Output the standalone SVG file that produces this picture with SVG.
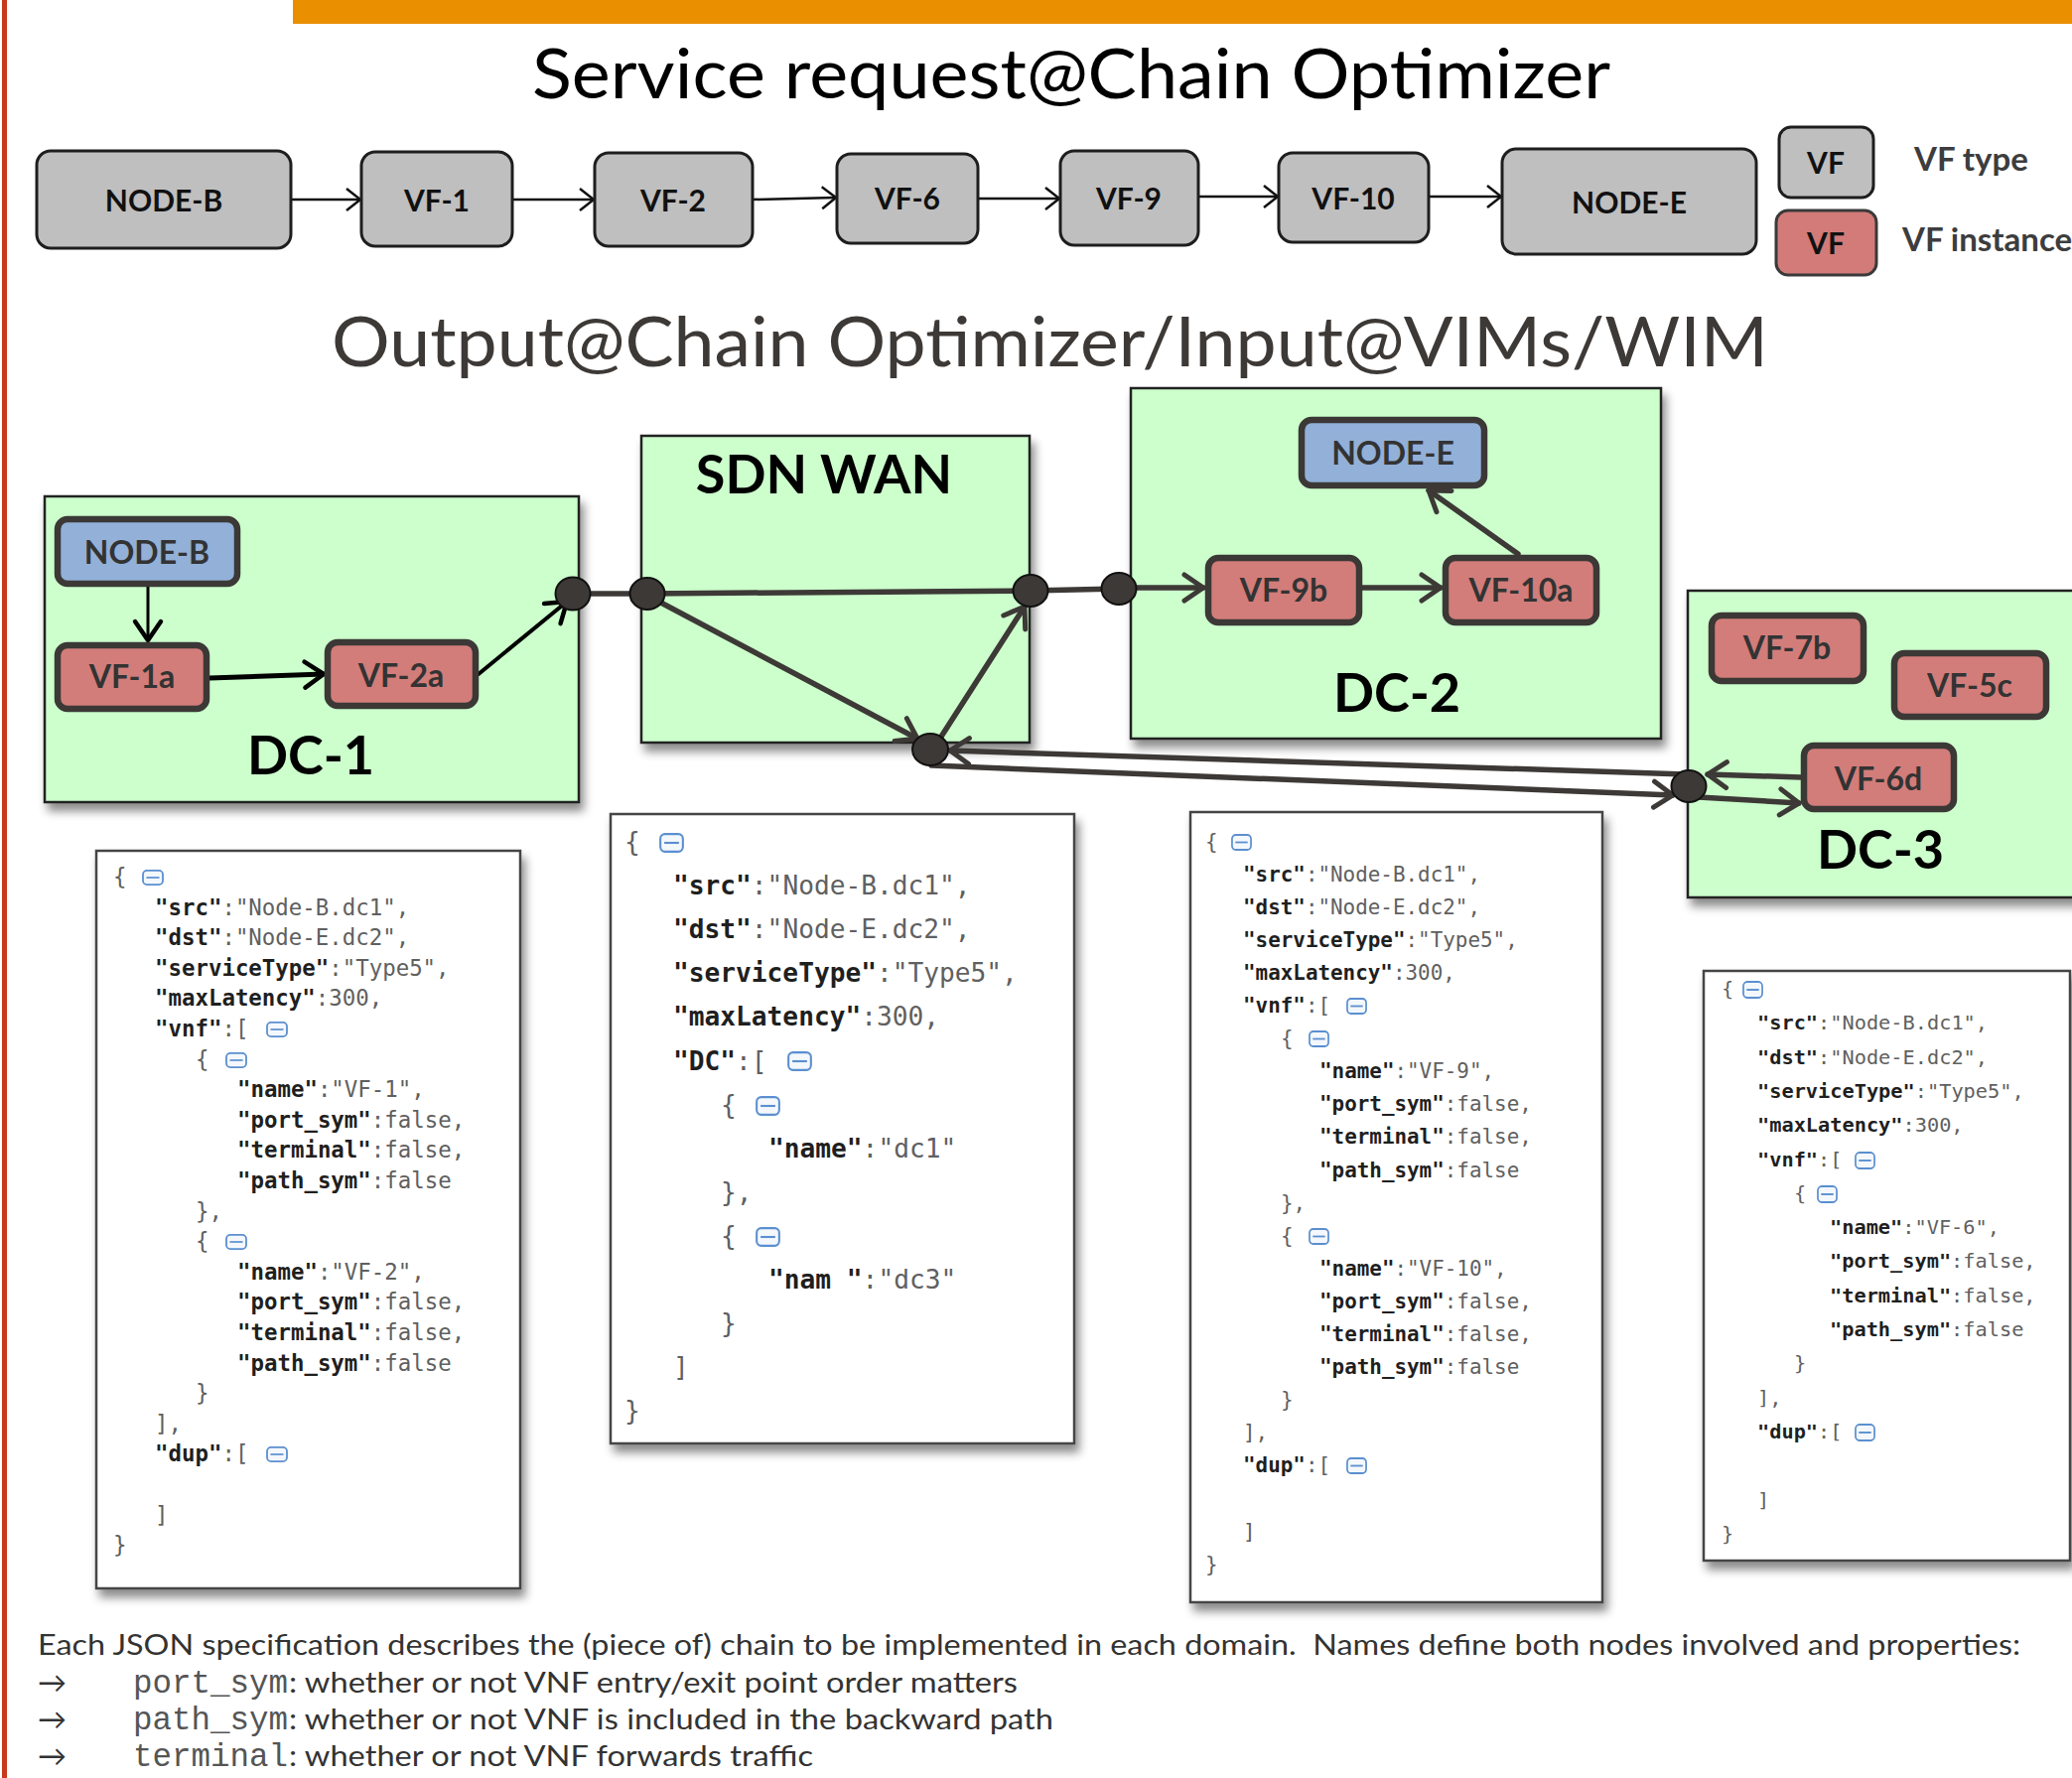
<svg xmlns="http://www.w3.org/2000/svg" xmlns:xlink="http://www.w3.org/1999/xlink" width="2087" height="1791" viewBox="0 0 2087 1791">
  <defs>
    <style>
      .title { font-family: Lato, "Open Sans", sans-serif; font-size: 70px; }
      .top rect { fill: #bfbfbf; stroke: #1e1e1e; stroke-width: 3; }
      .top text, .legend text { font-family: Lato, "Open Sans", sans-serif; font-weight: bold; font-size: 30px; fill: #111; text-anchor: middle; }
      .legend text.lt { text-anchor: start; fill: #3d3d3d; font-size: 33px; }
      .dc { fill: #ccffcc; stroke: #222; stroke-width: 2.5; }
      .dcl { font-family: Lato, "Open Sans", sans-serif; font-weight: bold; font-size: 54px; fill: #000; text-anchor: middle; }
      .blue { fill: #92b0d8; stroke: #3b3836; stroke-width: 6.5; }
      .red { fill: #d27d7a; stroke: #3b3836; stroke-width: 6.5; }
      .nl { font-family: Lato, "Open Sans", sans-serif; font-weight: bold; font-size: 32px; fill: #333; text-anchor: middle; }
      .port { fill: #3d3936; stroke: #111; stroke-width: 2; }
      .c-thin { stroke: #111; stroke-width: 2.5; fill: none; marker-end: url(#ah); }
      .c-blk { stroke: #000; fill: none; stroke-linecap: round; }
      .c-dk { stroke: #3d3936; stroke-width: 5.5; fill: none; stroke-linecap: round; }
      .jbox { fill: #fff; stroke: #444; stroke-width: 2.5; }
      .json { font-family: "DejaVu Sans Mono", "Liberation Mono", monospace; fill: #606060; }
      .json .k { font-weight: bold; fill: #1f1f1f; }
      .foot { font-family: Lato, "DejaVu Sans", sans-serif; font-size: 29px; fill: #333; }
      .mono { font-family: "Liberation Mono", "Courier New", monospace; font-size: 32.5px; fill: #555; }
    </style>
    <filter id="shadow" x="-10%" y="-10%" width="125%" height="125%">
      <feDropShadow dx="4" dy="8" stdDeviation="5" flood-color="#000" flood-opacity="0.45"/>
    </filter>
    <marker id="ah" viewBox="0 0 20 26" refX="17" refY="13" markerWidth="20" markerHeight="26" markerUnits="userSpaceOnUse" orient="auto">
      <path d="M3,2 L17,13 L3,24" fill="none" stroke="#111" stroke-width="2.5"/>
    </marker>
    <marker id="ahb" viewBox="0 0 28 34" refX="24" refY="17" markerWidth="28" markerHeight="34" markerUnits="userSpaceOnUse" orient="auto">
      <path d="M5,4 L24,17 L5,30" fill="none" stroke="#000" stroke-width="4.5" stroke-linecap="round" stroke-linejoin="round"/>
    </marker>
    <marker id="ahd" viewBox="0 0 28 34" refX="24" refY="17" markerWidth="28" markerHeight="34" markerUnits="userSpaceOnUse" orient="auto">
      <path d="M5,4 L24,17 L5,30" fill="none" stroke="#3d3936" stroke-width="5" stroke-linecap="round" stroke-linejoin="round"/>
    </marker>
    <symbol id="fold" viewBox="0 0 22 17" preserveAspectRatio="none">
      <rect x="1" y="1" width="20" height="15" rx="4" fill="#f4f8fc" stroke="#5b8fd0" stroke-width="1.8"/>
      <line x1="4.5" y1="8.5" x2="17.5" y2="8.5" stroke="#5b8fd0" stroke-width="1.8"/>
    </symbol>
  </defs>

  <rect width="2087" height="1791" fill="#fff"/>
  <!-- slide frame: accent bar and left rule -->
  <rect x="295" y="0" width="1792" height="24" fill="#e98f00"/>
  <rect x="2" y="0" width="5" height="1791" fill="#c9381a"/>

  <text class="title" x="536" y="99" fill="#000" textLength="1086" lengthAdjust="spacingAndGlyphs">Service request@Chain Optimizer</text>

  <!-- requested chain -->
  <g id="chain-links">
    <line class="c-thin" x1="293" y1="201" x2="363" y2="201"/>
    <line class="c-thin" x1="516" y1="201" x2="598" y2="201"/>
    <line class="c-thin" x1="758" y1="201" x2="842" y2="199"/>
    <line class="c-thin" x1="985" y1="200" x2="1067" y2="200"/>
    <line class="c-thin" x1="1207" y1="198" x2="1287" y2="198"/>
    <line class="c-thin" x1="1439" y1="198" x2="1512" y2="198"/>
  </g>
  <g id="req-node-b" class="top"><rect x="37" y="152" width="256" height="98" rx="14"/><text x="165" y="213">NODE-B</text></g>
  <g id="req-vf-1" class="top"><rect x="364" y="153" width="152" height="95" rx="14"/><text x="440" y="213">VF-1</text></g>
  <g id="req-vf-2" class="top"><rect x="599" y="154" width="159" height="94" rx="14"/><text x="678" y="213">VF-2</text></g>
  <g id="req-vf-6" class="top"><rect x="843" y="155" width="142" height="90" rx="14"/><text x="914" y="211">VF-6</text></g>
  <g id="req-vf-9" class="top"><rect x="1068" y="152" width="139" height="95" rx="14"/><text x="1137" y="211">VF-9</text></g>
  <g id="req-vf-10" class="top"><rect x="1288" y="154" width="151" height="90" rx="14"/><text x="1363" y="211">VF-10</text></g>
  <g id="req-node-e" class="top"><rect x="1513" y="150" width="256" height="106" rx="14"/><text x="1641" y="215">NODE-E</text></g>

  <!-- legend -->
  <g id="legend" class="legend">
    <rect x="1792" y="128" width="95" height="71" rx="12" fill="#bfbfbf" stroke="#1e1e1e" stroke-width="3"/>
    <text x="1839" y="175">VF</text>
    <rect x="1789" y="212" width="101" height="65" rx="12" fill="#d27b78" stroke="#3a3a3a" stroke-width="3"/>
    <text x="1839" y="256" fill="#333">VF</text>
    <text class="lt" x="1928" y="172">VF type</text>
    <text class="lt" x="1916" y="253">VF instance</text>
  </g>

  <text class="title" x="334" y="369" fill="#3d3936" textLength="1447" lengthAdjust="spacingAndGlyphs">Output@Chain Optimizer/Input@VIMs/WIM</text>

  <!-- domains -->
  <g id="dc-1"><rect class="dc" x="45" y="500" width="538" height="308" filter="url(#shadow)"/><text class="dcl" x="313" y="780">DC-1</text></g>
  <g id="sdn-wan"><rect class="dc" x="646" y="439" width="391" height="309" filter="url(#shadow)"/><text class="dcl" x="830" y="497" fill="#333">SDN WAN</text></g>
  <g id="dc-2"><rect class="dc" x="1139" y="391" width="534" height="353" filter="url(#shadow)"/><text class="dcl" x="1407" y="717">DC-2</text></g>
  <g id="dc-3"><rect class="dc" x="1700" y="595" width="400" height="309" filter="url(#shadow)"/><text class="dcl" x="1894" y="875">DC-3</text></g>

  <!-- deployed chain links -->
  <g id="connectors">
    <line class="c-blk" x1="149" y1="591" x2="149" y2="645" stroke-width="3" marker-end="url(#ahb)"/>
    <line class="c-blk" x1="211" y1="683" x2="326" y2="679" stroke-width="5" marker-end="url(#ahb)"/>
    <line class="c-blk" x1="482" y1="679" x2="571" y2="606" stroke-width="4" marker-end="url(#ahb)"/>
    <line class="c-dk" x1="577" y1="598" x2="651" y2="598"/>
    <line class="c-dk" x1="651" y1="598" x2="1038" y2="595"/>
    <line class="c-dk" x1="660" y1="604" x2="924" y2="744" marker-end="url(#ahd)"/>
    <line class="c-dk" x1="948" y1="742" x2="1032" y2="611" marker-end="url(#ahd)"/>
    <line class="c-dk" x1="1038" y1="595" x2="1127" y2="593" stroke-width="4.5"/>
    <line class="c-dk" x1="1127" y1="592" x2="1212" y2="592" marker-end="url(#ahd)"/>
    <line class="c-dk" x1="1372" y1="592" x2="1451" y2="592" marker-end="url(#ahd)"/>
    <line class="c-dk" x1="1529" y1="558" x2="1439" y2="494" marker-end="url(#ahd)"/>
    <line class="c-dk" x1="1698" y1="780" x2="957" y2="756" marker-end="url(#ahd)"/>
    <line class="c-dk" x1="938" y1="771" x2="1685" y2="801" marker-end="url(#ahd)"/>
    <line class="c-dk" x1="1814" y1="783" x2="1720" y2="780" marker-end="url(#ahd)"/>
    <line class="c-dk" x1="1711" y1="803" x2="1812" y2="809" marker-end="url(#ahd)"/>
  </g>

  <g id="ports">
    <ellipse class="port" cx="577" cy="598" rx="17.5" ry="16.5"/>
    <ellipse class="port" cx="652" cy="598" rx="17.5" ry="16"/>
    <ellipse class="port" cx="1038" cy="595" rx="17.5" ry="16"/>
    <ellipse class="port" cx="1127" cy="593" rx="17.5" ry="16"/>
    <ellipse class="port" cx="937" cy="755" rx="18" ry="16"/>
    <ellipse class="port" cx="1701" cy="792" rx="17.5" ry="16"/>
  </g>

  <g id="node-b"><rect class="blue" x="58" y="523" width="181" height="65" rx="10"/><text class="nl" x="148" y="568">NODE-B</text></g>
  <g id="vf-1a"><rect class="red" x="58" y="650" width="150" height="64" rx="10"/><text class="nl" x="133" y="693">VF-1a</text></g>
  <g id="vf-2a"><rect class="red" x="330" y="647" width="149" height="64" rx="10"/><text class="nl" x="404" y="692">VF-2a</text></g>
  <g id="node-e"><rect class="blue" x="1311" y="423" width="184" height="66" rx="10"/><text class="nl" x="1403" y="468">NODE-E</text></g>
  <g id="vf-9b"><rect class="red" x="1217" y="562" width="152" height="65" rx="10"/><text class="nl" x="1293" y="606">VF-9b</text></g>
  <g id="vf-10a"><rect class="red" x="1456" y="562" width="152" height="65" rx="10"/><text class="nl" x="1532" y="606">VF-10a</text></g>
  <g id="vf-7b"><rect class="red" x="1724" y="620" width="153" height="66" rx="10"/><text class="nl" x="1800" y="664">VF-7b</text></g>
  <g id="vf-5c"><rect class="red" x="1908" y="658" width="153" height="64" rx="10"/><text class="nl" x="1984" y="702">VF-5c</text></g>
  <g id="vf-6d"><rect class="red" x="1817" y="751" width="151" height="64" rx="10"/><text class="nl" x="1892" y="796">VF-6d</text></g>

  <!-- JSON request for DC-1 -->
  <g id="json-dc1">
    <rect class="jbox" x="97" y="857" width="427" height="743" filter="url(#shadow)"/>
    <g class="json" font-size="22.4">
      <text x="114" y="891">{</text>
      <text x="156" y="921.6"><tspan class="k">"src"</tspan>:"Node-B.dc1",</text>
      <text x="156" y="952.2"><tspan class="k">"dst"</tspan>:"Node-E.dc2",</text>
      <text x="156" y="982.8"><tspan class="k">"serviceType"</tspan>:"Type5",</text>
      <text x="156" y="1013.4"><tspan class="k">"maxLatency"</tspan>:300,</text>
      <text x="156" y="1044"><tspan class="k">"vnf"</tspan>:[</text>
      <text x="197" y="1074.6">{</text>
      <text x="239" y="1105.2"><tspan class="k">"name"</tspan>:"VF-1",</text>
      <text x="239" y="1135.8"><tspan class="k">"port_sym"</tspan>:false,</text>
      <text x="239" y="1166.4"><tspan class="k">"terminal"</tspan>:false,</text>
      <text x="239" y="1197"><tspan class="k">"path_sym"</tspan>:false</text>
      <text x="197" y="1227.6">},</text>
      <text x="197" y="1258.2">{</text>
      <text x="239" y="1288.8"><tspan class="k">"name"</tspan>:"VF-2",</text>
      <text x="239" y="1319.4"><tspan class="k">"port_sym"</tspan>:false,</text>
      <text x="239" y="1350"><tspan class="k">"terminal"</tspan>:false,</text>
      <text x="239" y="1380.6"><tspan class="k">"path_sym"</tspan>:false</text>
      <text x="197" y="1411.2">}</text>
      <text x="156" y="1441.8">],</text>
      <text x="156" y="1472.4"><tspan class="k">"dup"</tspan>:[</text>
      <text x="156" y="1533.6">]</text>
      <text x="114" y="1564.2">}</text>
    </g>
    <use href="#fold" x="143" y="876" width="22" height="16"/>
    <use href="#fold" x="268" y="1029" width="22" height="16"/>
    <use href="#fold" x="227" y="1060" width="22" height="16"/>
    <use href="#fold" x="227" y="1243" width="22" height="16"/>
    <use href="#fold" x="268" y="1457" width="22" height="16"/>
  </g>

  <!-- JSON request for the WAN -->
  <g id="json-wan">
    <rect class="jbox" x="615" y="820" width="467" height="634" filter="url(#shadow)"/>
    <g class="json" font-size="26.2">
      <text x="629" y="857">{</text>
      <text x="678" y="901.1"><tspan class="k">"src"</tspan>:"Node-B.dc1",</text>
      <text x="678" y="945.2"><tspan class="k">"dst"</tspan>:"Node-E.dc2",</text>
      <text x="678" y="989.3"><tspan class="k">"serviceType"</tspan>:"Type5",</text>
      <text x="678" y="1033.4"><tspan class="k">"maxLatency"</tspan>:300,</text>
      <text x="678" y="1077.5"><tspan class="k">"DC"</tspan>:[</text>
      <text x="726" y="1121.6">{</text>
      <text x="774" y="1165.7"><tspan class="k">"name"</tspan>:"dc1"</text>
      <text x="726" y="1209.8">},</text>
      <text x="726" y="1253.9">{</text>
      <text x="774" y="1298" xml:space="preserve"><tspan class="k">"nam "</tspan>:"dc3"</text>
      <text x="726" y="1342.1">}</text>
      <text x="678" y="1386.2">]</text>
      <text x="629" y="1430.3">}</text>
    </g>
    <use href="#fold" x="664" y="839" width="25" height="20"/>
    <use href="#fold" x="793" y="1059" width="25" height="20"/>
    <use href="#fold" x="761" y="1104" width="25" height="20"/>
    <use href="#fold" x="761" y="1236" width="25" height="20"/>
  </g>

  <!-- JSON request for DC-2 -->
  <g id="json-dc2">
    <rect class="jbox" x="1199" y="818" width="415" height="796" filter="url(#shadow)"/>
    <g class="json" font-size="20.9">
      <text x="1214" y="854.5">{</text>
      <text x="1252" y="887.6"><tspan class="k">"src"</tspan>:"Node-B.dc1",</text>
      <text x="1252" y="920.7"><tspan class="k">"dst"</tspan>:"Node-E.dc2",</text>
      <text x="1252" y="953.8"><tspan class="k">"serviceType"</tspan>:"Type5",</text>
      <text x="1252" y="986.9"><tspan class="k">"maxLatency"</tspan>:300,</text>
      <text x="1252" y="1020"><tspan class="k">"vnf"</tspan>:[</text>
      <text x="1290" y="1053.1">{</text>
      <text x="1329" y="1086.2"><tspan class="k">"name"</tspan>:"VF-9",</text>
      <text x="1329" y="1119.3"><tspan class="k">"port_sym"</tspan>:false,</text>
      <text x="1329" y="1152.4"><tspan class="k">"terminal"</tspan>:false,</text>
      <text x="1329" y="1185.5"><tspan class="k">"path_sym"</tspan>:false</text>
      <text x="1290" y="1218.6">},</text>
      <text x="1290" y="1251.7">{</text>
      <text x="1329" y="1284.8"><tspan class="k">"name"</tspan>:"VF-10",</text>
      <text x="1329" y="1317.9"><tspan class="k">"port_sym"</tspan>:false,</text>
      <text x="1329" y="1351"><tspan class="k">"terminal"</tspan>:false,</text>
      <text x="1329" y="1384.1"><tspan class="k">"path_sym"</tspan>:false</text>
      <text x="1290" y="1417.2">}</text>
      <text x="1252" y="1450.3">],</text>
      <text x="1252" y="1483.4"><tspan class="k">"dup"</tspan>:[</text>
      <text x="1252" y="1549.6">]</text>
      <text x="1214" y="1582.7">}</text>
    </g>
    <use href="#fold" x="1240" y="840" width="21" height="17"/>
    <use href="#fold" x="1356" y="1005" width="21" height="17"/>
    <use href="#fold" x="1318" y="1038" width="21" height="17"/>
    <use href="#fold" x="1318" y="1237" width="21" height="17"/>
    <use href="#fold" x="1356" y="1468" width="21" height="17"/>
  </g>

  <!-- JSON request for DC-3 -->
  <g id="json-dc3">
    <rect class="jbox" x="1716" y="978" width="369" height="594" filter="url(#shadow)"/>
    <g class="json" font-size="20.3">
      <text x="1734" y="1003">{</text>
      <text x="1770" y="1037.3"><tspan class="k">"src"</tspan>:"Node-B.dc1",</text>
      <text x="1770" y="1071.6"><tspan class="k">"dst"</tspan>:"Node-E.dc2",</text>
      <text x="1770" y="1105.9"><tspan class="k">"serviceType"</tspan>:"Type5",</text>
      <text x="1770" y="1140.2"><tspan class="k">"maxLatency"</tspan>:300,</text>
      <text x="1770" y="1174.5"><tspan class="k">"vnf"</tspan>:[</text>
      <text x="1807" y="1208.8">{</text>
      <text x="1843" y="1243.1"><tspan class="k">"name"</tspan>:"VF-6",</text>
      <text x="1843" y="1277.4"><tspan class="k">"port_sym"</tspan>:false,</text>
      <text x="1843" y="1311.7"><tspan class="k">"terminal"</tspan>:false,</text>
      <text x="1843" y="1346"><tspan class="k">"path_sym"</tspan>:false</text>
      <text x="1807" y="1380.3">}</text>
      <text x="1770" y="1414.6">],</text>
      <text x="1770" y="1448.9"><tspan class="k">"dup"</tspan>:[</text>
      <text x="1770" y="1517.5">]</text>
      <text x="1734" y="1551.8">}</text>
    </g>
    <use href="#fold" x="1755" y="988" width="21" height="18"/>
    <use href="#fold" x="1868" y="1160" width="21" height="18"/>
    <use href="#fold" x="1830" y="1194" width="21" height="18"/>
    <use href="#fold" x="1868" y="1434" width="21" height="18"/>
  </g>

  <!-- notes -->
  <g id="notes">
    <text class="foot" x="38" y="1667" textLength="1997" lengthAdjust="spacingAndGlyphs">Each JSON specification describes the (piece of) chain to be implemented in each domain.&#160; Names define both nodes involved and properties:</text>
    <text class="foot" x="38" y="1705">→</text>
    <text class="mono" x="134" y="1705">port_sym</text>
    <text class="foot" x="291" y="1705" textLength="734" lengthAdjust="spacingAndGlyphs">: whether or not VNF entry/exit point order matters</text>
    <text class="foot" x="38" y="1742">→</text>
    <text class="mono" x="134" y="1742">path_sym</text>
    <text class="foot" x="291" y="1742" textLength="770" lengthAdjust="spacingAndGlyphs">: whether or not VNF is included in the backward path</text>
    <text class="foot" x="38" y="1779">→</text>
    <text class="mono" x="134" y="1779">terminal</text>
    <text class="foot" x="291" y="1779" textLength="528" lengthAdjust="spacingAndGlyphs">: whether or not VNF forwards traffic</text>
  </g>
</svg>
